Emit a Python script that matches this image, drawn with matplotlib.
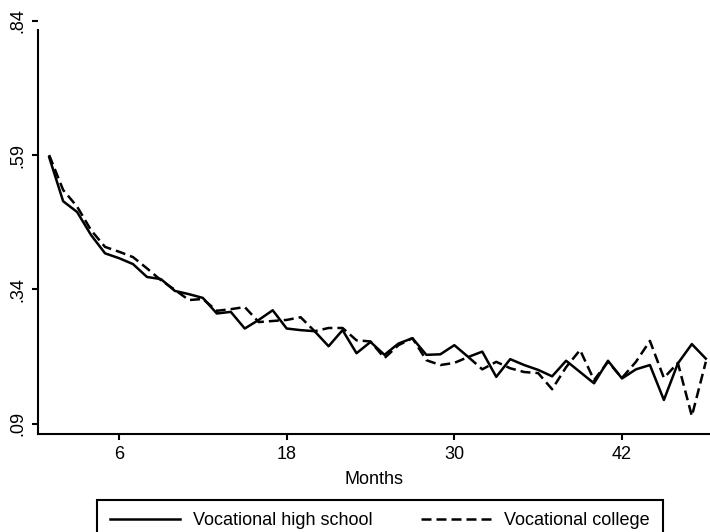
import matplotlib
matplotlib.use("Agg")
import matplotlib.pyplot as plt

plt.rcParams['font.family'] = ['Liberation Sans', 'DejaVu Sans']

# months since start
months = list(range(1, 49))

# vocational high school (solid line)
high_school = [0.586, 0.504, 0.484, 0.441, 0.407, 0.398, 0.387, 0.363, 0.359, 0.337,
               0.331, 0.324, 0.295, 0.298, 0.267, 0.283, 0.301, 0.267, 0.264, 0.262,
               0.234, 0.264, 0.221, 0.242, 0.218, 0.239, 0.249, 0.218, 0.219, 0.236,
               0.214, 0.224, 0.177, 0.210, 0.199, 0.190, 0.178, 0.207, 0.186, 0.165,
               0.207, 0.174, 0.191, 0.199, 0.134, 0.202, 0.238, 0.211]

# vocational college (dashed line)
college = [0.590, 0.525, 0.494, 0.450, 0.419, 0.410, 0.400, 0.379, 0.357, 0.339,
           0.320, 0.322, 0.300, 0.303, 0.307, 0.279, 0.281, 0.283, 0.288, 0.262,
           0.268, 0.268, 0.245, 0.243, 0.212, 0.236, 0.249, 0.208, 0.199, 0.203,
           0.214, 0.191, 0.205, 0.193, 0.186, 0.184, 0.154, 0.195, 0.227, 0.171,
           0.205, 0.175, 0.205, 0.244, 0.175, 0.203, 0.104, 0.205]

xticks = [6, 18, 30, 42]
yticks = [0.09, 0.34, 0.59, 0.84]
ytick_labels = ['.09', '.34', '.59', '.84']

fig = plt.figure(figsize=(7.1, 5.32), dpi=100)
ax = fig.add_axes([0.0535, 0.184, 0.9465, 0.782])

ax.plot(months, high_school, color='black', lw=1.8, label='Vocational high school')
ax.plot(months, college, color='black', lw=1.8, linestyle=(0, (4, 2)),
        label='Vocational college')

ax.set_xlim(0.2, 48.3)
ax.set_ylim(0.0704, 0.845)
ax.spines['top'].set_visible(False)
ax.spines['right'].set_visible(False)
ax.spines['left'].set_bounds(0.0704, 0.823)
for s in ['left', 'bottom']:
    ax.spines[s].set_linewidth(1.5)

ax.set_xticks(xticks)
ax.set_yticks(yticks)
ax.set_yticklabels(ytick_labels, rotation=90, va='center')
ax.tick_params(axis='both', direction='out', length=4.5, width=1.5,
               labelsize=13, pad=4)
ax.set_xlabel('Months', fontsize=13, labelpad=6)

leg = fig.legend(loc='upper center', bbox_to_anchor=(0.535, 0.078), ncol=2,
                 fontsize=13, frameon=True, fancybox=False, edgecolor='black',
                 handlelength=3.9, handletextpad=0.7, columnspacing=2.7,
                 borderpad=0.7, framealpha=1)
leg.get_frame().set_linewidth(1.5)

fig.savefig('out.png', dpi=100)
